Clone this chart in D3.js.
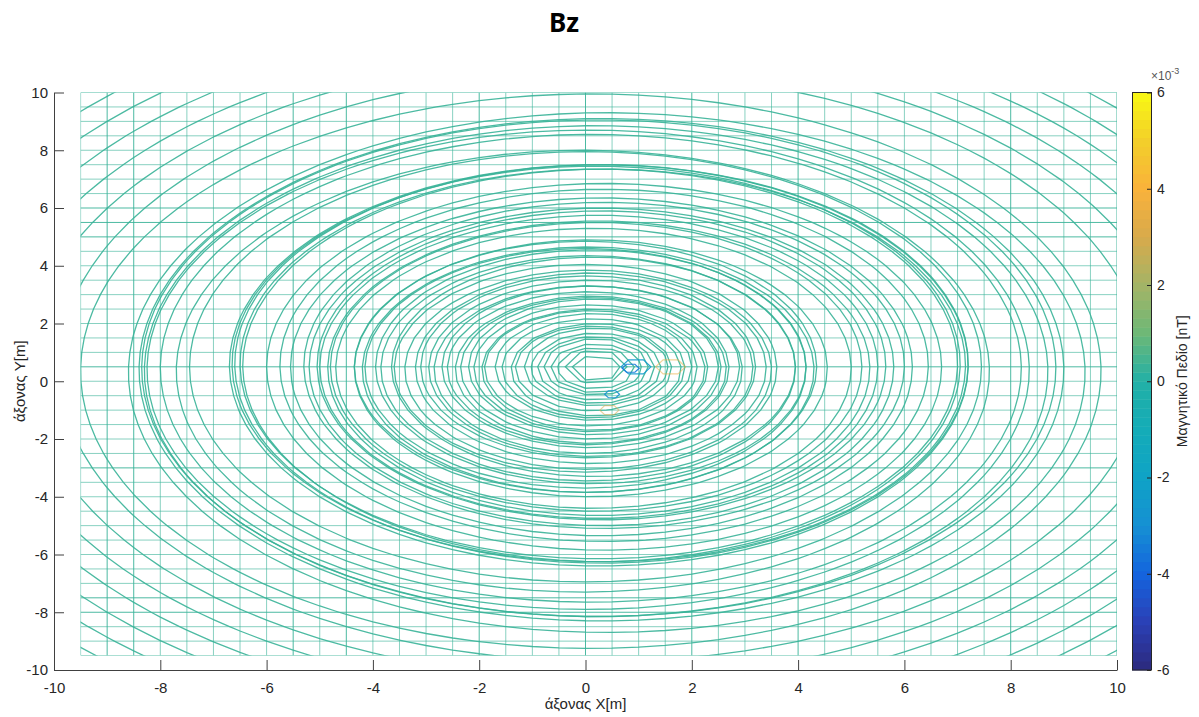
<!DOCTYPE html>
<html>
<head>
<meta charset="utf-8">
<title>Bz</title>
<script src="https://d3js.org/d3.v7.min.js"></script>
<style>
  body { margin: 0; background: #fff; }
  text { font-family: "Liberation Sans", Arial, sans-serif; }
</style>
</head>
<body>
<div id="chart"></div>
<script>
// mesh lines of the computed field (m)
var gridX = [-9.5, -9, -8.5, -8, -7.5, -7, -6.5, -6, -5.5, -5, -4.5, -4, -3.5, -3, -2.5, -2, -1.5, -1, -0.5, 0,
             0.5, 1, 1.5, 2, 2.5, 3, 3.5, 4, 4.5, 5, 5.5, 6, 6.5, 7, 7.5, 8, 8.5, 9, 9.5, 10];
var gridY = [-9.5, -9, -8.5, -8, -7.5, -7, -6.5, -6, -5.5, -5, -4.5, -4, -3.5, -3, -2.5, -2, -1.5, -1, -0.5, 0,
             0.5, 1, 1.5, 2, 2.5, 3, 3.5, 4, 4.5, 5, 5.5, 6, 6.5, 7, 7.5, 8, 8.5, 9, 9.5, 10];
// mesh lines that print darker (overlapping layers)
var darkX = [-9.5, -9, -8.5, -5.5, -4.5, -2, 0, 2, 4, 8, 10];
var darkY = [10, 6, 5.5, 5, 0.5, -3, -7.5, -8, -9.5];

// contour rings: centre (m) and radius (m), value ~0 (x1e-3 nT)
var ringR  = [13.8, 13.2, 12.6, 12.0, 11.4, 10.8, 10.2, 9.6, 9.0, 8.7, 8.6, 8.5, 8.3, 8.1, 7.65, 7.45,
              6.95, 6.9, 6.85, 6.8, 6.75, 6.35, 6.1, 5.85, 5.65, 5.5, 5.35, 5.25, 5.1, 5.0, 4.85,
              4.45, 4.35, 4.25, 4.15, 4.05, 3.9, 3.8, 3.6, 3.45, 3.3, 3.15, 3.05, 2.9, 2.8, 2.65, 2.55,
              2.45, 2.35, 2.2, 2.1, 2.0, 1.85, 1.72, 1.6, 1.47, 1.35, 1.22, 1.1, 0.98, 0.85, 0.72, 0.58, 0.45];
var ringCx = [0.3, 0.3, 0.3, 0.3, 0.3, 0.3, 0.3, 0.1, 0.4, 0.3, 0.25, 0.2, 0.05, 0.1, -0.05, 0.0,
              0.25, 0.3, 0.2, 0.35, 0.25, 0.35, 0.35, 0.3, 0.35, 0.3, 0.3, 0.25, 0.25, 0.2, 0.15,
              0.1, 0.0, 0.05, 0.0, 0.1, 0.05, 0.15, 0.0, 0.05, 0.1, 0.05, 0.1, 0.05, 0.1, 0.05, 0.1,
              0.1, 0.15, 0.1, 0.15, 0.1, 0.15, 0.15, 0.2, 0.15, 0.2, 0.2, 0.2, 0.2, 0.2, 0.2, 0.2, 0.2];
var ringCy = [0.5, 0.5, 0.5, 0.5, 0.5, 0.5, 0.5, 0.35, 0.3, 0.4, 0.45, 0.35, 0.4, 0.45, 0.35, 0.5,
              0.55, 0.6, 0.6, 0.55, 0.6, 0.5, 0.55, 0.5, 0.55, 0.5, 0.55, 0.5, 0.45, 0.5, 0.45,
              0.45, 0.5, 0.4, 0.45, 0.5, 0.45, 0.5, 0.45, 0.4, 0.45, 0.5, 0.45, 0.4, 0.5, 0.45, 0.4,
              0.45, 0.5, 0.45, 0.4, 0.45, 0.5, 0.45, 0.4, 0.45, 0.5, 0.45, 0.45, 0.5, 0.45, 0.45, 0.5, 0.45];
var ringValue = 0.3;

// small contours near the source (value in x1e-3 nT)
var spotCx  = [0.95, 0.85, 0.5, 1.6, 0.45];
var spotCy  = [0.5, 0.45, -0.45, 0.5, -1.0];
var spotR   = [0.28, 0.16, 0.14, 0.28, 0.18];
var spotVal = [-2.5, -3.5, -3, 3.5, 3];

var xTicks = [-10, -8, -6, -4, -2, 0, 2, 4, 6, 8, 10];
var yTicks = [-10, -8, -6, -4, -2, 0, 2, 4, 6, 8, 10];
var cbTicks = [-6, -4, -2, 0, 2, 4, 6];
// colormap samples at -6 .. 6
var cmapVals = [-6, -5, -4, -3, -2, -1, 0, 1, 2, 3, 4, 5, 6];
var cmapCols = ["#2c2a7d", "#2b40b6", "#1464de", "#1690d3", "#0fa3c6", "#14acb8", "#22b0a6",
                "#6db877", "#a4b466", "#d8aa4c", "#f9b23b", "#f3cf2a", "#f8f913"];

var width = 1199, height = 717;
var svg = d3.select('#chart').append('svg')
    .attr('width', width)
    .attr('height', height)
    .style('background', '#fff');

var x = d3.scaleLinear().domain([-10, 10]).range([54, 1117]);
var y = d3.scaleLinear().domain([-10, 10]).range([670, 92.5]);
var cmap = d3.scaleLinear().domain(cmapVals).range(cmapCols).clamp(true);

var lineColor = cmap(ringValue);

// clip to the mesh extent
svg.append('clipPath').attr('id', 'clip')
  .append('rect')
    .attr('x', x(-9.5)).attr('y', y(10))
    .attr('width', x(10) - x(-9.5)).attr('height', y(-9.5) - y(10));

var plot = svg.append('g').attr('clip-path', 'url(#clip)');

// mesh
plot.selectAll('.vline').data(gridX).enter().append('line')
    .attr('x1', function(d) { return x(d); }).attr('x2', function(d) { return x(d); })
    .attr('y1', y(-9.5)).attr('y2', y(10))
    .attr('stroke', lineColor)
    .attr('stroke-opacity', function(d) { return darkX.indexOf(d) >= 0 ? 0.9 : 0.6; })
    .attr('stroke-width', 1);
plot.selectAll('.hline').data(gridY).enter().append('line')
    .attr('y1', function(d) { return y(d); }).attr('y2', function(d) { return y(d); })
    .attr('x1', x(-9.5)).attr('x2', x(10))
    .attr('stroke', lineColor)
    .attr('stroke-opacity', function(d) { return darkY.indexOf(d) >= 0 ? 0.9 : 0.6; })
    .attr('stroke-width', 1);

// contour vertices sit where the level crosses the mesh lines
function ringPoints(cx, cy, r) {
  var pts = [];
  gridX.forEach(function(gx) {
    var dx = gx - cx;
    if (Math.abs(dx) < r) {
      var dy = Math.sqrt(r * r - dx * dx);
      pts.push([gx, cy + dy], [gx, cy - dy]);
    }
  });
  gridY.forEach(function(gy) {
    var dy = gy - cy;
    if (Math.abs(dy) < r) {
      var dx = Math.sqrt(r * r - dy * dy);
      pts.push([cx + dx, gy], [cx - dx, gy]);
    }
  });
  pts.sort(function(a, b) {
    return Math.atan2(a[1] - cy, a[0] - cx) - Math.atan2(b[1] - cy, b[0] - cx);
  });
  return pts;
}

var line = d3.line()
    .x(function(d) { return x(d[0]); })
    .y(function(d) { return y(d[1]); })
    .curve(d3.curveLinearClosed);

var rings = ringR.map(function(r, i) { return ringPoints(ringCx[i], ringCy[i], r); });

plot.selectAll('.ring').data(rings).enter().append('path')
    .attr('d', line)
    .attr('fill', 'none')
    .attr('stroke', lineColor)
    .attr('stroke-opacity', 0.9)
    .attr('stroke-width', 1.3);

// small hexagonal contours
spotR.forEach(function(r, i) {
  var rx = x(spotCx[i] + r) - x(spotCx[i]);
  var ry = y(spotCy[i]) - y(spotCy[i] + r);
  var pts = [0, 1, 2, 3, 4, 5].map(function(k) {
    var a = k * Math.PI / 3;
    return [x(spotCx[i]) + rx * Math.cos(a), y(spotCy[i]) + ry * Math.sin(a)];
  });
  plot.append('path')
    .attr('d', d3.line().curve(d3.curveLinearClosed)(pts))
    .attr('fill', 'none')
    .attr('stroke', cmap(spotVal[i]))
    .attr('stroke-opacity', spotVal[i] > 0 ? 0.55 : 0.9)
    .attr('stroke-width', 1.2);
});

// axes
var axisColor = '#404040';
var xAxis = d3.axisBottom(x).tickValues(xTicks).tickSizeInner(-10).tickSizeOuter(0)
    .tickPadding(12).tickFormat(function(d) { return String(d); });
var yAxis = d3.axisLeft(y).tickValues(yTicks).tickSizeInner(-10).tickSizeOuter(0)
    .tickPadding(6).tickFormat(function(d) { return String(d); });

var gx = svg.append('g').attr('transform', 'translate(0,670)').call(xAxis);
var gy = svg.append('g').attr('transform', 'translate(54,0)').call(yAxis);
[gx, gy].forEach(function(g) {
  g.select('.domain').attr('stroke', axisColor);
  g.selectAll('.tick line').attr('stroke', axisColor);
  g.selectAll('.tick text').attr('fill', '#262626')
    .style('font-family', '"Liberation Sans", Arial, sans-serif').style('font-size', '15px');
});

svg.append('text')
    .attr('x', (x(-10) + x(10)) / 2).attr('y', 709)
    .attr('text-anchor', 'middle').attr('fill', '#262626')
    .style('font-size', '15px')
    .text('άξονας X[m]');

svg.append('text')
    .attr('transform', 'translate(25,' + (y(-10) + y(10)) / 2 + ') rotate(-90)')
    .attr('text-anchor', 'middle').attr('fill', '#262626')
    .style('font-size', '15px')
    .text('άξονας Y[m]');

// title
svg.append('text')
    .attr('x', 564).attr('y', 32)
    .attr('text-anchor', 'middle').attr('fill', '#000')
    .style('font-family', '"Noto Sans", "Open Sans", sans-serif')
    .style('font-weight', 'bold').style('font-size', '26px')
    .text('Bz');

// colorbar
var cbX = 1132, cbW = 19;
var yc = d3.scaleLinear().domain([-6, 6]).range([670, 92.5]);
var nSteps = 64, stepV = 12 / nSteps;
var steps = d3.range(nSteps).map(function(i) { return -6 + i * stepV; });
svg.append('g').selectAll('rect').data(steps).enter().append('rect')
    .attr('x', cbX).attr('width', cbW)
    .attr('y', function(d) { return yc(d + stepV); })
    .attr('height', function(d) { return yc(d) - yc(d + stepV) + 0.5; })
    .attr('fill', function(d) { return cmap(d + stepV / 2); });
svg.append('rect')
    .attr('x', cbX + 0.5).attr('y', yc(6)).attr('width', cbW).attr('height', yc(-6) - yc(6))
    .attr('fill', 'none').attr('stroke', '#262626').attr('stroke-width', 1);

var cbAxis = d3.axisRight(yc).tickValues(cbTicks).tickSizeInner(-4).tickSizeOuter(0)
    .tickPadding(6).tickFormat(function(d) { return String(d); });
var gc = svg.append('g').attr('transform', 'translate(' + (cbX + cbW) + ',0)').call(cbAxis);
gc.select('.domain').remove();
gc.selectAll('.tick line').attr('stroke', '#262626');
gc.selectAll('.tick text').attr('fill', '#262626')
  .style('font-family', '"Liberation Sans", Arial, sans-serif').style('font-size', '14px');

// exponent label above the colorbar
var expo = svg.append('text')
    .attr('x', 1151).attr('y', 80).attr('fill', '#555')
    .style('font-size', '12px');
expo.append('tspan').text('×10');
expo.append('tspan').attr('dy', -6).style('font-size', '9px').text('-3');

svg.append('text')
    .attr('transform', 'translate(1187,' + (yc(-6) + yc(6)) / 2 + ') rotate(-90)')
    .attr('text-anchor', 'middle').attr('fill', '#262626')
    .style('font-size', '14px')
    .text('Μαγνητικό Πεδίο [nT]');
</script>
</body>
</html>
